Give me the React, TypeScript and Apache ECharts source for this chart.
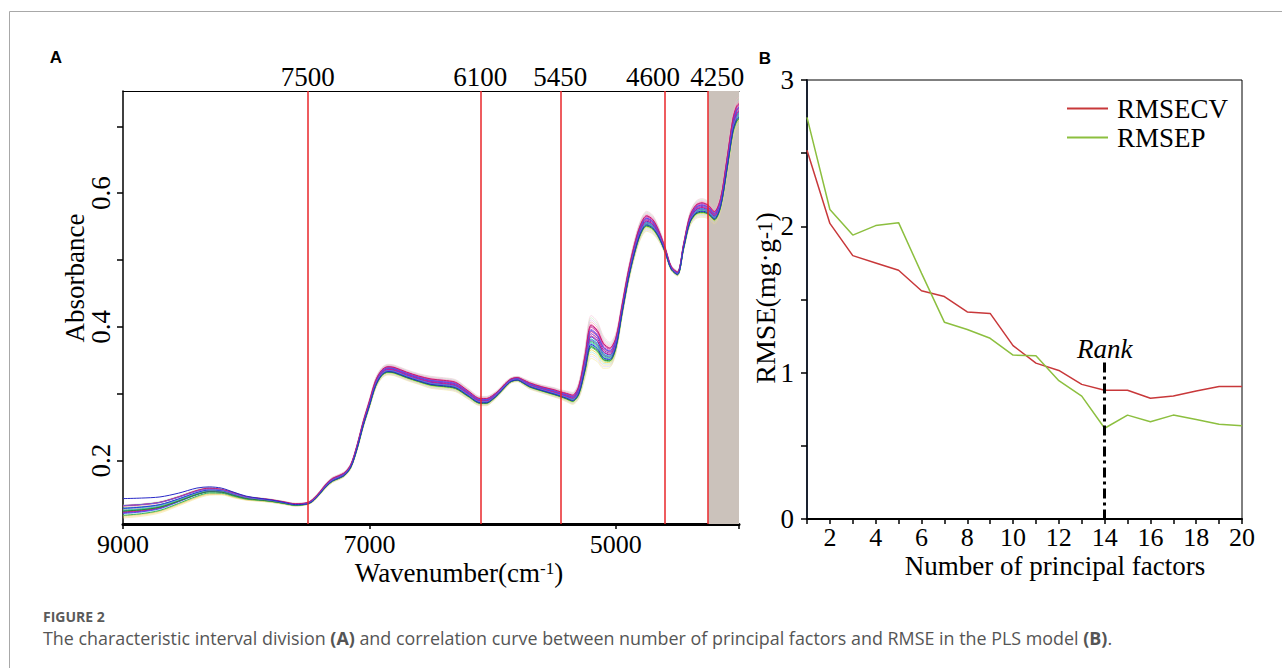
import React, { useEffect, useRef } from "react";
import * as echarts from "echarts";

// ---------- Panel A: NIR spectra ----------
const wavenumbers = [
  9000, 8850, 8700, 8550, 8400, 8300, 8200, 8100, 8000, 7900, 7800, 7700, 7600, 7500, 7450, 7400,
  7350, 7300, 7250, 7200, 7150, 7100, 7050, 7000, 6950, 6900, 6850, 6800, 6700, 6600, 6500, 6400,
  6300, 6200, 6100, 6050, 6000, 5950, 5900, 5850, 5800, 5750, 5700, 5600, 5500, 5450, 5400, 5350,
  5300, 5250, 5200, 5150, 5100, 5050, 5000, 4950, 4900, 4850, 4800, 4750, 4700, 4650, 4600, 4550,
  4500, 4450, 4400, 4350, 4300, 4250, 4200, 4150, 4100, 4050, 4020, 4000,
];
const meanAbsorbance = [
  0.126, 0.128, 0.132, 0.141, 0.151, 0.155, 0.154, 0.149, 0.144, 0.142, 0.140, 0.137, 0.134, 0.136, 0.142, 0.152,
  0.163, 0.171, 0.175, 0.180, 0.192, 0.220, 0.255, 0.285, 0.315, 0.331, 0.336, 0.335, 0.328, 0.322, 0.317, 0.315,
  0.312, 0.300, 0.289, 0.289, 0.294, 0.302, 0.312, 0.320, 0.322, 0.318, 0.313, 0.307, 0.302, 0.299, 0.296, 0.293,
  0.305, 0.345, 0.385, 0.378, 0.362, 0.358, 0.375, 0.425, 0.475, 0.515, 0.545, 0.558, 0.553, 0.538, 0.515, 0.488,
  0.480, 0.520, 0.560, 0.575, 0.578, 0.575, 0.566, 0.585, 0.640, 0.700, 0.718, 0.722,
];
const spreadMain = [
  0.004, 0.004, 0.004, 0.004, 0.004, 0.004, 0.003, 0.003, 0.002, 0.002, 0.002, 0.002, 0.002, 0.002, 0.003, 0.003,
  0.004, 0.004, 0.004, 0.004, 0.004, 0.005, 0.006, 0.007, 0.008, 0.008, 0.008, 0.008, 0.008, 0.008, 0.009, 0.009,
  0.009, 0.008, 0.007, 0.007, 0.006, 0.005, 0.005, 0.004, 0.004, 0.005, 0.006, 0.006, 0.007, 0.007, 0.008, 0.009,
  0.012, 0.022, 0.032, 0.030, 0.024, 0.019, 0.015, 0.012, 0.012, 0.013, 0.014, 0.015, 0.014, 0.010, 0.006, 0.004,
  0.004, 0.006, 0.010, 0.013, 0.014, 0.013, 0.012, 0.013, 0.016, 0.020, 0.022, 0.022,
];
const spreadBase = [
  0.008, 0.0075, 0.0065, 0.005, 0.004, 0.003, 0.0025, 0.002, 0.0015, 0.001, 0.0008, 0.0005, 0.0003, 0, 0, 0,
  0, 0, 0, 0, 0, 0, 0, 0, 0, 0, 0, 0, 0, 0, 0, 0,
  0, 0, 0, 0, 0, 0, 0, 0, 0, 0, 0, 0, 0, 0, 0, 0,
  0, 0, 0, 0, 0, 0, 0, 0, 0, 0, 0, 0, 0, 0, 0, 0,
  0, 0, 0, 0, 0, 0, 0, 0, 0, 0, 0, 0,
];
const sampleScoreMain = [
  -1.0, 1.0, -0.9, 0.9, -0.8, 0.8, -0.7, 0.7, -0.6, 0.6, -0.5, 0.5, -0.4, 0.45, -0.3, 0.35,
  -0.2, 0.25, -0.1, 0.15, 0.0, 0.05, -0.25, 0.3, 0.55, -0.45, -0.15, -0.35,
];
const sampleScoreBase = [
  -1.0, 0.2, -0.6, 0.5, -0.9, 0.1, -0.4, 0.3, -0.8, -0.2, 0.6, -0.5, 0.0, -0.7, 0.4, -0.3,
  -0.9, 0.7, -0.1, -0.6, 0.3, -0.4, 0.1, -0.8, 0.5, 0.0, 0.9, 2.3,
];
const sampleColors = [
  "#f1e27a", "#f3b3cf", "#c9c3f2", "#b8e6b0", "#f7d27f", "#d7b4f0", "#9fe3e0", "#f0a8a8",
  "#e8d43a", "#ff7fbf", "#40c040", "#c050c0", "#20c8c8", "#e040a0", "#60a0f0", "#a040d0",
  "#30b060", "#e02080", "#18b0b0", "#8030c0", "#2040e0", "#d01890", "#50d0a0", "#5050f0",
  "#c02070", "#2a8a2a", "#7060e0", "#2828c8",
];
const sampleOpacity = [
  0.45, 0.45, 0.45, 0.45, 0.55, 0.55, 0.6, 0.6, 0.75, 0.75, 0.85, 0.85, 0.9, 0.9, 0.9, 0.9,
  0.95, 0.95, 1, 1, 1, 1, 1, 1, 1, 1, 1, 1,
];
const boundaryWavenumbers = [7500, 6100, 5450, 4600, 4250];
const shadedInterval = [4250, 4000];
const bottomTickLabels = [9000, 7000, 5000];
const bottomTicks = [9000, 7000, 5000, 4000];
const absorbanceLabels = [0.2, 0.4, 0.6];
const absorbanceTicks = [0.2, 0.3, 0.4, 0.5, 0.6, 0.7];

// ---------- Panel B: RMSE vs number of principal factors ----------
const factors = [1, 2, 3, 4, 5, 6, 7, 8, 9, 10, 11, 12, 13, 14, 15, 16, 17, 18, 19, 20];
const rmsecv = [2.52, 2.02, 1.8, 1.75, 1.7, 1.56, 1.52, 1.415, 1.405, 1.185, 1.065, 1.015, 0.92, 0.88, 0.88, 0.825, 0.84, 0.875, 0.905, 0.905];
const rmsep = [2.745, 2.115, 1.94, 2.005, 2.025, 1.68, 1.345, 1.295, 1.235, 1.12, 1.115, 0.945, 0.84, 0.62, 0.71, 0.665, 0.71, 0.68, 0.648, 0.638];
const rankFactor = 14;
const rankTop = 1.07;
const rmseLabels = [0, 1, 2, 3];
const rmseTicks = [0, 0.5, 1, 1.5, 2, 2.5, 3];

const SERIF = "'Liberation Serif', 'Times New Roman', serif";
const SANS = "'Open Sans', 'Noto Sans', sans-serif";

export default function App() {
  const ref = useRef<HTMLDivElement>(null);
  useEffect(() => {
    if (!ref.current) return;
    const chart = echarts.init(ref.current, undefined, { renderer: "svg" });

    const spectra = sampleScoreMain.map((s, i) => ({
      type: "line",
      xAxisIndex: 0,
      yAxisIndex: 0,
      silent: true,
      showSymbol: false,
      symbol: "none",
      smooth: 0.3,
      z: 3,
      lineStyle: { color: sampleColors[i], width: 1, opacity: sampleOpacity[i] },
      data: wavenumbers.map((w, k) => [
        w,
        +(meanAbsorbance[k] + s * spreadMain[k] + sampleScoreBase[i] * spreadBase[k]).toFixed(4),
      ]),
    }));

    const bottomFont = { fontFamily: SERIF, fontSize: 26, color: "#000", lineHeight: 20 };
    // labels of the interval boundaries, drawn on the red lines (crowded pair nudged apart)
    const boundaryLabelPadding = (w: number) => (w === 4600 ? [0, 24, 0, 0] : w === 4250 ? [0, 0, 0, 18] : [0, 0, 0, 0]);

    const option: any = {
      animation: false,
      backgroundColor: "#fff",
      grid: [
        { left: 123, top: 91, width: 616, height: 433 },
        { left: 807, top: 80, width: 435, height: 439, show: true, borderColor: "#000", borderWidth: 1 },
      ],
      xAxis: [
        {
          gridIndex: 0,
          type: "value",
          position: "bottom",
          inverse: true,
          min: 4000,
          max: 9000,
          axisLine: { lineStyle: { color: "#000", width: 3 } },
          axisTick: { show: true, length: 5, customValues: bottomTicks, lineStyle: { color: "#000", width: 1.5 } },
          axisLabel: { ...bottomFont, margin: 10, customValues: bottomTickLabels, formatter: (v: number) => String(v) },
          splitLine: { show: false },
        },
        {
          gridIndex: 0,
          type: "value",
          position: "top",
          inverse: true,
          min: 4000,
          max: 9000,
          axisLine: { lineStyle: { color: "#000", width: 1 } },
          axisTick: { show: false },
          axisLabel: { show: false },
          splitLine: { show: false },
        },
        {
          gridIndex: 1,
          type: "value",
          min: 1,
          max: 20,
          interval: 1,
          axisLine: { onZero: false, lineStyle: { color: "#000", width: 2 } },
          axisTick: { show: true, length: 5, lineStyle: { color: "#000", width: 1.5 } },
          axisLabel: { ...bottomFont, margin: 8, formatter: (v: number) => (v % 2 === 0 ? String(v) : "") },
          splitLine: { show: false },
        },
      ],
      yAxis: [
        {
          gridIndex: 0,
          type: "value",
          min: 0.105,
          max: 0.753,
          axisLine: { show: true, lineStyle: { color: "#000", width: 1.5 } },
          axisTick: { show: true, length: 6, customValues: absorbanceTicks, lineStyle: { color: "#000", width: 1.5 } },
          axisLabel: { fontFamily: SERIF, fontSize: 27, color: "#000", rotate: 90, margin: 9, customValues: absorbanceLabels, formatter: (v: number) => v.toFixed(1) },
          splitLine: { show: false },
        },
        {
          gridIndex: 1,
          type: "value",
          min: 0,
          max: 3,
          axisLine: { show: true, onZero: false, lineStyle: { color: "#1a2230", width: 2 } },
          axisTick: { show: true, length: 6, customValues: rmseTicks, lineStyle: { color: "#000", width: 1.5 } },
          axisLabel: { fontFamily: SERIF, fontSize: 27, color: "#000", margin: 13, customValues: rmseLabels, formatter: (v: number) => String(v) },
          splitLine: { show: false },
        },
      ],
      legend: {
        data: ["RMSECV", "RMSEP"],
        orient: "vertical",
        left: 1067,
        top: 95,
        padding: 0,
        itemGap: 2,
        itemWidth: 41,
        itemHeight: 2,
        icon: "rect",
        selectedMode: false,
        textStyle: { fontFamily: SERIF, fontSize: 27, color: "#000", lineHeight: 25, padding: [0, 0, 0, 4] },
      },
      series: [
        {
          type: "line",
          xAxisIndex: 0,
          yAxisIndex: 0,
          data: [],
          silent: true,
          z: 1,
          markArea: {
            silent: true,
            itemStyle: { color: "#cbc2bb", opacity: 1 },
            data: [[{ xAxis: shadedInterval[0] }, { xAxis: shadedInterval[1] }]],
          },
          markLine: {
            silent: true,
            symbol: "none",
            lineStyle: { color: "#e8262a", width: 1.5, type: "solid" },
            label: {
              show: true,
              position: "end",
              distance: 4,
              fontFamily: SERIF,
              fontSize: 27,
              lineHeight: 20,
              color: "#000",
            },
            data: boundaryWavenumbers.map((w) => ({
              xAxis: w,
              label: { formatter: String(w), padding: boundaryLabelPadding(w) },
            })),
          },
        },
        ...spectra,
        {
          name: "RMSECV",
          type: "line",
          xAxisIndex: 2,
          yAxisIndex: 1,
          symbol: "none",
          color: "#c8383a",
          lineStyle: { color: "#c8383a", width: 1.5 },
          data: factors.map((f, i) => [f, rmsecv[i]]),
        },
        {
          name: "RMSEP",
          type: "line",
          xAxisIndex: 2,
          yAxisIndex: 1,
          symbol: "none",
          color: "#8cbf3f",
          lineStyle: { color: "#8cbf3f", width: 1.5 },
          data: factors.map((f, i) => [f, rmsep[i]]),
          markLine: {
            silent: true,
            symbol: "none",
            lineStyle: { color: "#000", width: 3, type: [10, 4, 3, 4] },
            label: {
              show: true,
              position: "start",
              formatter: "Rank",
              fontFamily: SERIF,
              fontStyle: "italic",
              fontSize: 27,
              color: "#000",
              distance: 0,
            },
            data: [[{ coord: [rankFactor, rankTop] }, { coord: [rankFactor, 0] }]],
          },
        },
      ],
      graphic: [
        { type: "line", silent: true, shape: { x1: 9.5, y1: 11.5, x2: 1282, y2: 11.5 }, style: { stroke: "#a8a8a8", lineWidth: 1 } },
        { type: "line", silent: true, shape: { x1: 9.5, y1: 11.5, x2: 9.5, y2: 668 }, style: { stroke: "#a8a8a8", lineWidth: 1 } },
        { type: "text", x: 56, y: 57, style: { text: "A", fontFamily: "'Liberation Sans', Arial, sans-serif", fontWeight: "bold", fontSize: 17, fill: "#000", align: "center", verticalAlign: "middle" } },
        { type: "text", x: 765, y: 58, style: { text: "B", fontFamily: "'Liberation Sans', Arial, sans-serif", fontWeight: "bold", fontSize: 17, fill: "#000", align: "center", verticalAlign: "middle" } },
        {
          type: "text",
          x: 75,
          y: 278,
          rotation: Math.PI / 2,
          style: { text: "Absorbance", fontFamily: SERIF, fontSize: 27, fill: "#000", align: "center", verticalAlign: "middle", lineHeight: 22 },
        },
        {
          type: "text",
          x: 459,
          y: 573,
          style: {
            text: "{a|Wavenumber(cm}{s|-1}{a|)}",
            align: "center",
            verticalAlign: "middle",
            rich: {
              a: { fontFamily: SERIF, fontSize: 27, color: "#000", lineHeight: 26, verticalAlign: "bottom" },
              s: { fontFamily: SERIF, fontSize: 17, color: "#000", lineHeight: 26, verticalAlign: "top" },
            },
          },
        },
        {
          type: "text",
          x: 765,
          y: 298,
          rotation: Math.PI / 2,
          style: {
            text: "{a|RMSE(mg·g}{s|-1}{a|)}",
            align: "center",
            verticalAlign: "middle",
            rich: {
              a: { fontFamily: SERIF, fontSize: 28, color: "#000", lineHeight: 28, verticalAlign: "bottom" },
              s: { fontFamily: SERIF, fontSize: 21, color: "#000", lineHeight: 28, verticalAlign: "middle" },
            },
          },
        },
        {
          type: "text",
          x: 1055,
          y: 566,
          style: { text: "Number of principal factors", fontFamily: SERIF, fontSize: 27, fill: "#000", align: "center", verticalAlign: "middle", lineHeight: 20 },
        },
        {
          type: "text",
          x: 43,
          y: 616,
          style: { text: "FIGURE 2", fontFamily: SANS, fontWeight: "bold", fontSize: 14, fill: "#5a5a5a", verticalAlign: "middle" },
        },
        {
          type: "text",
          x: 43,
          y: 638,
          style: {
            text: "The characteristic interval division {b|(A)} and correlation curve between number of principal factors and RMSE in the PLS model {b|(B)}.",
            fontFamily: SANS,
            fontSize: 17.9,
            fill: "#555",
            verticalAlign: "middle",
            rich: { b: { fontFamily: SANS, fontSize: 17.9, fontWeight: "bold", color: "#444" } },
          },
        },
      ],
    };
    chart.setOption(option);
    return () => chart.dispose();
  }, []);
  return <div ref={ref} style={{ position: "fixed", left: 0, top: 0, width: 1282, height: 668, background: "#fff" }} />;
}
